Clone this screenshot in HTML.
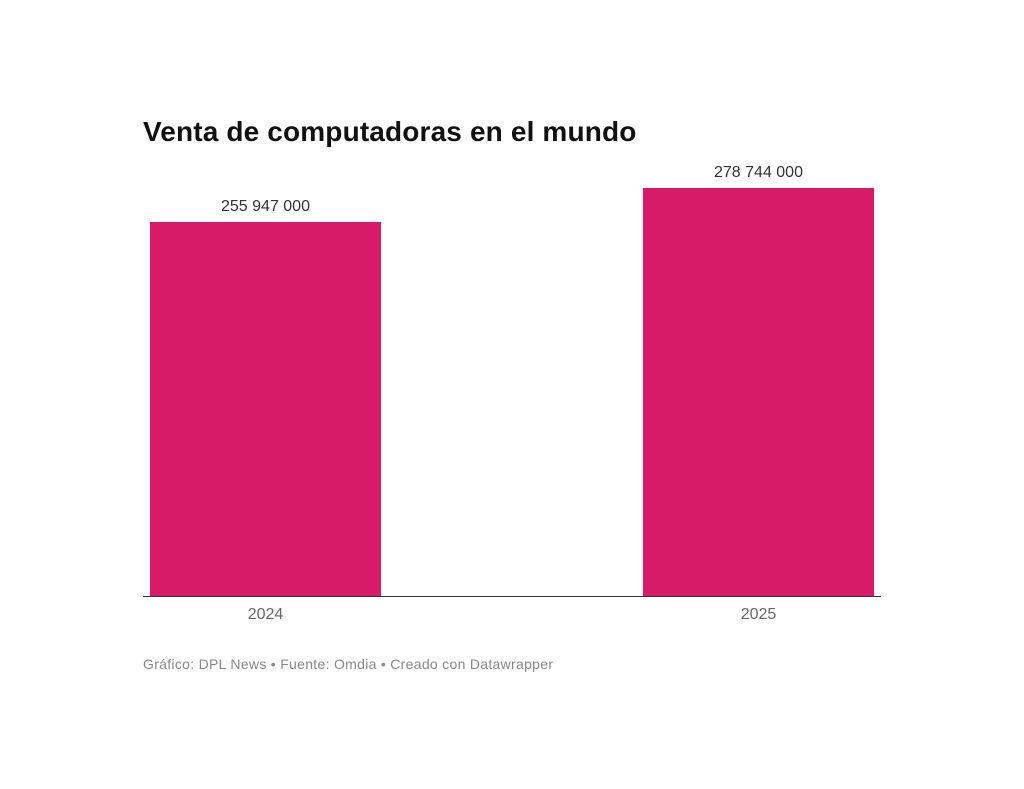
<!DOCTYPE html>
<html><head><meta charset="utf-8"><style>
body{margin:0;width:1024px;height:789px;background:#fff;position:relative;font-family:"Liberation Sans",sans-serif;overflow:hidden}
.a{position:absolute;white-space:nowrap}
.bar{position:absolute;background:#d81b69}
.lab{font-size:16px;color:#333;text-align:center;width:231px}
.tick{font-size:16px;color:#666;text-align:center;width:231px}
</style></head><body>
<div class="a" style="left:143px;top:116px;font-size:28px;font-weight:bold;color:#111;letter-spacing:0.15px">Venta de computadoras en el mundo</div>
<div class="a lab" style="left:150px;top:198px">255 947 000</div>
<div class="a lab" style="left:643px;top:164px">278 744 000</div>
<div class="bar" style="left:150px;top:222px;width:231px;height:375px"></div>
<div class="bar" style="left:643px;top:188px;width:231px;height:409px"></div>
<div class="a" style="left:143px;top:596px;width:738px;height:1px;background:#333"></div>
<div class="a tick" style="left:150px;top:606px">2024</div>
<div class="a tick" style="left:643px;top:606px">2025</div>
<div class="a" style="left:143px;top:656px;font-size:14px;color:#888;letter-spacing:0.3px">Gráfico: DPL News • Fuente: Omdia • Creado con Datawrapper</div>
</body></html>
